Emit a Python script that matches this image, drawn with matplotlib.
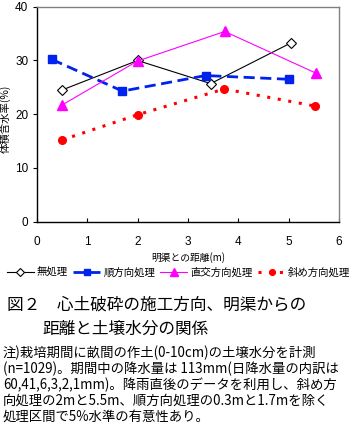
import matplotlib
matplotlib.use('Agg')
import matplotlib.pyplot as plt

plt.rcParams['font.family'] = ['Noto Sans CJK JP', 'DejaVu Sans']

# Data
x_none = [0.5, 2.0, 3.45, 5.05]
y_none = [24.5, 30.0, 25.7, 33.3]
x_para = [0.3, 1.7, 3.35, 5.0]
y_para = [30.2, 24.3, 27.2, 26.5]
x_perp = [0.5, 2.0, 3.73, 5.55]
y_perp = [21.7, 29.9, 35.4, 27.6]
x_diag = [0.5, 2.0, 3.72, 5.53]
y_diag = [15.2, 19.9, 24.7, 21.5]

labels = ['無処理', '順方向処理', '直交方向処理', '斜め方向処理']
x_ticks = [0, 1, 2, 3, 4, 5, 6]
y_ticks = [0, 10, 20, 30, 40]

fig = plt.figure(figsize=(3.5, 4.23), dpi=100)
ax = fig.add_axes([0.105, 0.476, 0.864, 0.508])

ax.plot(x_none, y_none, color='black', lw=0.8, marker='D', ms=5.5,
        mfc='white', mec='black', mew=0.8, label=labels[0])
ax.plot(x_para, y_para, color='#0022ee', lw=2.0, dashes=(4, 2), marker='s',
        ms=6.2, mfc='#0022ee', mec='#0022ee', label=labels[1])
ax.plot(x_perp, y_perp, color='#ff00ff', lw=0.8, marker='^', ms=7.5,
        mfc='#ff00ff', mec='#ff00ff', label=labels[2])
ax.plot(x_diag, y_diag, color='#ff0000', lw=2.2, dashes=(1, 2.5), marker='o',
        ms=5.5, mfc='#ff0000', mec='#ff0000', label=labels[3])

ax.set_xlim(0, 6)
ax.set_ylim(0, 40)
ax.set_xticks(x_ticks)
ax.set_yticks(y_ticks)
ax.tick_params(axis='x', direction='in', length=3, width=0.8, labelsize=8.5, pad=10)
ax.tick_params(axis='y', direction='out', length=3, width=0.8, labelsize=8.5, pad=3)
for lab in ax.get_xticklabels() + ax.get_yticklabels():
    lab.set_family('Liberation Sans')

for s in ['left', 'bottom']:
    ax.spines[s].set_color('black')
    ax.spines[s].set_linewidth(1.0)
for s in ['top', 'right']:
    ax.spines[s].set_color('#808080')
    ax.spines[s].set_linewidth(1.0)

ax.set_xlabel('明渠との距離(m)', fontsize=7, labelpad=3)
ax.set_ylabel('体積含水率(%)', fontsize=7.5)
ax.yaxis.set_label_coords(-0.085, 0.48)

fig.legend(loc='center', bbox_to_anchor=(0.51, 0.355), ncol=4, frameon=False,
           fontsize=7.5, handlelength=2.6, handletextpad=0.3, columnspacing=0.5,
           borderaxespad=0, markerscale=0.75)

fig.text(0.02, 1 - 305 / 423, '図２　心土破砕の施工方向、明渠からの',
         fontsize=12, va='center', ha='left')
fig.text(0.12, 1 - 329 / 423, '距離と土壌水分の関係',
         fontsize=12, va='center', ha='left')

notes = [
    '注)栽培期間に畝間の作土(0-10cm)の土壌水分を計測',
    '(n=1029)。期間中の降水量は 113mm(日降水量の内訳は',
    '60,41,6,3,2,1mm)。降雨直後のデータを利用し、斜め方',
    '向処理の2mと5.5m、順方向処理の0.3mと1.7mを除く',
    '処理区間で5%水準の有意性あり。',
]
for i, line in enumerate(notes):
    fig.text(0.008, 1 - (353 + 16 * i) / 423, line, fontsize=9.6,
             va='center', ha='left')

fig.savefig('out.png', dpi=100)
